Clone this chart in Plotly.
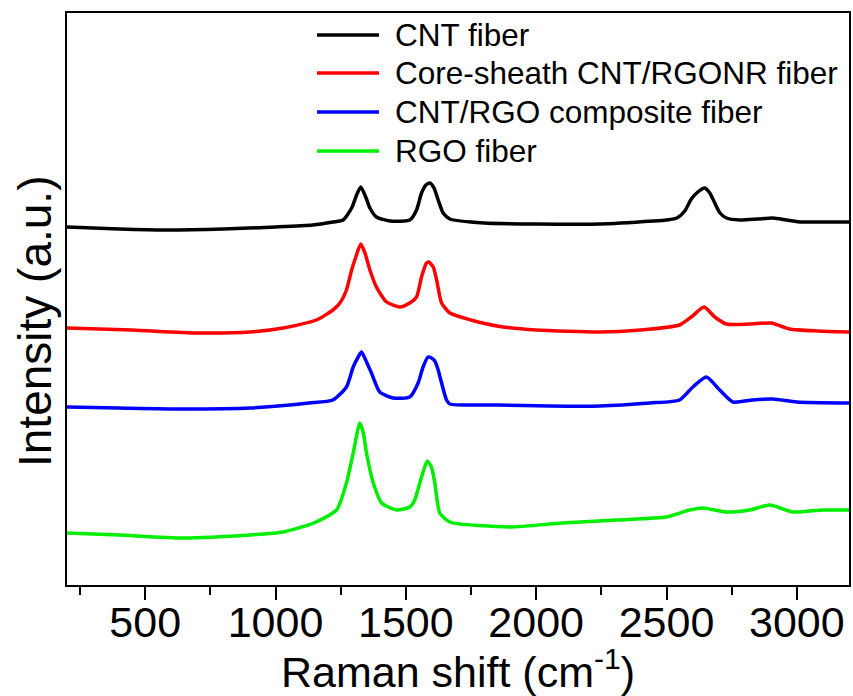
import plotly.graph_objects as go

# ---- data (wavenumber, intensity offset in a.u.) ----
cnt_x = [200, 400, 580, 800, 1000, 1143, 1220, 1259, 1292, 1311, 1327, 1346, 1362, 1387,
         1439, 1515, 1541, 1560, 1577, 1592, 1608, 1624, 1643, 1669, 1800, 2000, 2244,
         2450, 2499, 2540, 2570, 2595, 2620, 2646, 2666, 2685, 2705, 2730, 2781, 2850,
         2908, 2960, 3011, 3100, 3200]
cnt_y = [358, 356, 355, 356, 358, 360, 363, 365, 377, 390, 398, 388, 377, 368,
         364, 365, 375, 392, 400, 402, 397, 385, 372, 366, 362, 361, 361,
         364, 365, 367, 374, 386, 393, 397, 392, 382, 372, 367, 365, 366,
         367, 365, 363, 363, 363]

core_x = [200, 450, 700, 902, 1029, 1157, 1220, 1247, 1272, 1292, 1308, 1327, 1343, 1362,
          1387, 1426, 1477, 1515, 1541, 1560, 1579, 1588, 1605, 1618, 1637, 1669, 1750,
          1850, 2000, 2244, 2400, 2550, 2595, 2644, 2685, 2730, 2819, 2902, 2972, 3080, 3200]
core_y = [257, 255, 252, 253, 257, 265, 275, 282, 295, 315, 328, 341, 332, 315,
          298, 283, 278, 282, 288, 308, 322, 323, 318, 305, 282, 272, 265,
          259, 255, 253, 255, 260, 268, 278, 268, 261, 261, 262, 256, 254, 253]

comp_x = [200, 400, 645, 902, 1128, 1220, 1272, 1298, 1317, 1330, 1349, 1368, 1400, 1451,
          1515, 1547, 1566, 1585, 1598, 1611, 1624, 1637, 1656, 1669, 1850, 2052, 2244,
          2435, 2550, 2601, 2653, 2704, 2755, 2830, 2908, 3000, 3200]
comp_y = [178, 177, 176, 177, 182, 185, 198, 218, 228, 233, 223, 212, 193, 187,
          188, 202, 218, 228, 227, 224, 215, 202, 185, 181, 180, 179, 179,
          182, 185, 198, 208, 195, 183, 185, 186, 183, 182]

rgo_x = [200, 400, 645, 902, 1029, 1147, 1234, 1272, 1298, 1313, 1323, 1336, 1349, 1375,
         1407, 1464, 1515, 1534, 1560, 1582, 1598, 1611, 1630, 1669, 1899, 2100, 2308,
         2499, 2563, 2589, 2640, 2729, 2819, 2896, 2985, 3100, 3202]
rgo_y = [52, 50, 47, 50, 53, 62, 75, 102, 132, 152, 162, 153, 132, 102,
         82, 75, 78, 85, 108, 124, 118, 102, 72, 63, 58, 62, 65,
         68, 73, 75, 77, 73, 75, 80, 73, 75, 75]

series_names = ["CNT fiber", "Core-sheath CNT/RGONR fiber",
                "CNT/RGO composite fiber", "RGO fiber"]
series_x = [cnt_x, core_x, comp_x, rgo_x]
series_y = [cnt_y, core_y, comp_y, rgo_y]
series_colors = ["#000000", "#ff0000", "#0000ff", "#00ee00"]

x_ticks = [500, 1000, 1500, 2000, 2500, 3000]

FONT = "Liberation Sans, Arial, sans-serif"

fig = go.Figure()
for name, xs, ys, col in zip(series_names, series_x, series_y, series_colors):
    fig.add_trace(go.Scatter(x=xs, y=ys, mode="lines", name=name,
                             line=dict(color=col, width=3.5, shape="spline", smoothing=0.6),
                             showlegend=False))

W, H = 853, 696
ml, mr, mt, mb = 67, 4, 13, 111
pw, ph = W - ml - mr, H - mt - mb

# manual legend (long line samples like the original)
leg_rows_px = [35, 73, 112, 151]
for name, col, py in zip(series_names, series_colors, leg_rows_px):
    yp = 1 - (py - mt) / ph
    fig.add_shape(type="line", xref="paper", yref="paper",
                  x0=(317 - ml) / pw, x1=(379 - ml) / pw, y0=yp, y1=yp,
                  line=dict(color=col, width=3.5))
    fig.add_annotation(xref="paper", yref="paper", x=(393 - ml) / pw, y=yp,
                       text=name, showarrow=False, xanchor="left", yanchor="middle",
                       font=dict(family=FONT, size=31.5, color="#000000"))

# y-axis title placed like the original (slightly below centre)
fig.add_annotation(xref="paper", yref="paper", x=(35 - ml) / pw, y=1 - (322 - mt) / ph,
                   text="Intensity (a.u.)", textangle=-90, showarrow=False,
                   xanchor="center", yanchor="middle",
                   font=dict(family=FONT, size=46, color="#000000"))

fig.update_layout(
    width=W, height=H,
    margin=dict(l=ml, r=mr, t=mt, b=mb, autoexpand=False),
    paper_bgcolor="#ffffff", plot_bgcolor="#ffffff",
    font=dict(family=FONT, color="#000000"),
    showlegend=False,
)
fig.update_xaxes(
    range=[200, 3200], tickvals=x_ticks, ticktext=[str(v) for v in x_ticks],
    ticks="outside", ticklen=13, tickwidth=2, tickcolor="#000000",
    ticklabelstandoff=-15,
    minor=dict(ticks="outside", ticklen=8, tickwidth=2, tickcolor="#000000",
               tick0=0, dtick=250),
    showline=True, linewidth=2, linecolor="#000000", mirror=True,
    showgrid=False, zeroline=False,
    tickfont=dict(family=FONT, size=43, color="#000000"),
    title=dict(text="Raman shift (cm<sup>-1</sup>)", font=dict(family=FONT, size=43),
               standoff=0),
    automargin=False,
)
fig.update_yaxes(
    range=[0, 572], showticklabels=False, ticks="",
    showline=True, linewidth=2, linecolor="#000000", mirror=True,
    showgrid=False, zeroline=False,
    automargin=False,
)

fig.write_html("out.html")
